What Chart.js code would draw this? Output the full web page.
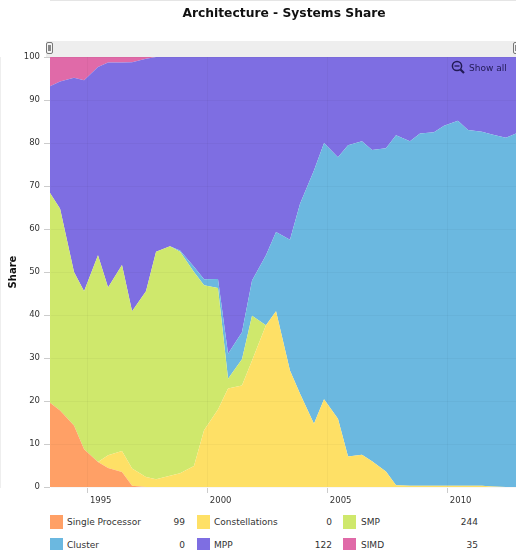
<!DOCTYPE html>
<html>
<head>
<meta charset="utf-8">
<script src="https://cdn.jsdelivr.net/npm/chart.js@4/dist/chart.umd.min.js"></script>
<style>
  html, body { margin: 0; padding: 0; background: #fff; overflow: hidden; width: 516px; height: 550px; }
  body { position: relative; font-family: "DejaVu Sans", sans-serif; }
  canvas { position: absolute; left: 0; top: 0; }
  #chartTitle { position: absolute; left: 0; top: 5px; width: 568px; text-align: center; font-size: 12.3px; line-height: 16px; font-weight: bold; color: #111; white-space: nowrap; }
  .swatch { position: absolute; width: 13px; height: 14px; }
  .lbl, .val { position: absolute; font-size: 9px; line-height: 14px; color: #333; white-space: nowrap; }
  #showAll { position: absolute; left: 451px; top: 60px; font-size: 9px; line-height: 14px; color: #221a55; white-space: nowrap; }
  #showAll svg { position: absolute; left: 0; top: 0; }
  #showAll span { position: absolute; left: 18px; top: 1px; }
</style>
</head>
<body>
<canvas id="shareChart" width="568" height="510"></canvas>
<div id="chartTitle">Architecture - Systems Share</div>
<div id="showAll">
  <svg width="15" height="15" viewBox="0 0 15 15">
    <circle cx="6" cy="6" r="4.6" fill="none" stroke="#221a55" stroke-width="1.5"/>
    <path d="M3.5 6H8.5" stroke="#221a55" stroke-width="1.3"/>
    <path d="M9.5 9.5L13 13" stroke="#221a55" stroke-width="2.2"/>
  </svg>
  <span>Show all</span>
</div>
<div id="legend"></div>
<script>
const years = [1993.45, 1993.87, 1994.45, 1994.87, 1995.45, 1995.87, 1996.45, 1996.87, 1997.45, 1997.87,
  1998.45, 1998.87, 1999.45, 1999.87, 2000.45, 2000.87, 2001.45, 2001.87, 2002.45, 2002.87,
  2003.45, 2003.87, 2004.45, 2004.87, 2005.45, 2005.87, 2006.45, 2006.87, 2007.45, 2007.87,
  2008.45, 2008.87, 2009.45, 2009.87, 2010.45, 2010.87, 2011.45, 2011.87, 2012.45, 2012.87];
const xTickYears = [1995, 2000, 2005, 2010];

const singleProcessor = [19.6, 17.8, 14.3, 8.8, 5.8, 4.4, 3.5, 0.3, 0, 0,
  0, 0, 0, 0, 0, 0, 0, 0, 0, 0,
  0, 0, 0, 0, 0, 0, 0, 0, 0, 0,
  0, 0, 0, 0, 0, 0, 0, 0, 0, 0];
const constellations = [0, 0, 0, 0, 0, 3, 4.9, 4, 2.3, 1.8,
  2.6, 3.2, 4.9, 13.2, 18, 22.9, 23.6, 29.4, 37.6, 40.9,
  27.1, 21.7, 14.7, 20.4, 15.9, 7.1, 7.5, 6, 3.6, 0.4,
  0.3, 0.3, 0.3, 0.3, 0.3, 0.3, 0.3, 0.1, 0, 0];
const smp = [48.8, 46.9, 35.7, 36.7, 48.1, 39, 43.2, 36.6, 43.2, 52.9,
  53.4, 51.5, 45.1, 33.7, 28.3, 2.3, 6.1, 10.4, 0, 0,
  0, 0, 0, 0, 0, 0, 0, 0, 0, 0,
  0, 0, 0, 0, 0, 0, 0, 0, 0, 0];
const cluster = [0, 0, 0, 0, 0, 0, 0, 0, 0, 0,
  0, 0.3, 1.2, 1.4, 2.1, 5.8, 6.3, 8.2, 16.3, 18.4,
  30.4, 44.2, 58.9, 59.6, 60.8, 72.4, 72.9, 72.4, 75.2, 81.4,
  80.1, 81.9, 82.2, 83.7, 84.9, 82.7, 82.3, 81.9, 81.2, 82.2];
const mpp = [24.8, 29.6, 45.2, 49.1, 43.8, 52.3, 47.1, 57.9, 54.1, 45.3,
  44, 45, 48.8, 51.7, 51.6, 69, 64, 52, 46.1, 40.7,
  42.5, 34.1, 26.4, 20, 23.3, 20.5, 19.6, 21.6, 21.2, 18.2,
  19.6, 17.8, 17.5, 16, 14.8, 17, 17.4, 18, 18.8, 17.8];
const simd = [6.8, 5.7, 4.8, 5.4, 2.3, 1.3, 1.3, 1.2, 0.4, 0,
  0, 0, 0, 0, 0, 0, 0, 0, 0, 0,
  0, 0, 0, 0, 0, 0, 0, 0, 0, 0,
  0, 0, 0, 0, 0, 0, 0, 0, 0, 0];

const seriesNames = ['Single Processor', 'Constellations', 'SMP', 'Cluster', 'MPP', 'SIMD'];
const seriesColors = ['#ffa066', '#fee066', '#cfe86c', '#6bb8e0', '#7e6ee2', '#e06aa8'];
const legendValues = ['99', '0', '244', '0', '122', '35'];
const seriesData = [singleProcessor, constellations, smp, cluster, mpp, simd];

// scrollbar band above the plot
const scrollbarPlugin = {
  id: 'scrollbar',
  afterDraw(chart) {
    const c = chart.ctx;
    const a = chart.chartArea;
    c.save();
    c.fillStyle = '#eeeeee';
    c.fillRect(a.left - 4, a.top - 16, a.right - a.left + 4, 16);
    [a.left - 4, a.right - 3].forEach(x => {
      c.fillStyle = '#f4f4f4';
      c.strokeStyle = '#777';
      c.beginPath();
      c.roundRect(x + 0.5, a.top - 14.5, 6, 11, 1.5);
      c.fill();
      c.stroke();
      c.fillStyle = '#888';
      c.fillRect(x + 2, a.top - 12, 3, 6);
    });
    c.restore();
  }
};

new Chart(document.getElementById('shareChart'), {
  type: 'line',
  data: {
    labels: years,
    datasets: seriesNames.map((name, i) => ({
      label: name,
      data: seriesData[i],
      backgroundColor: seriesColors[i],
      borderWidth: 0,
      pointRadius: 0,
      tension: 0,
      fill: i === 0 ? 'origin' : '-1'
    }))
  },
  options: {
    responsive: false,
    animation: false,
    layout: { padding: { top: 57, right: 52 } },
    plugins: {
      legend: { display: false },
      title: { display: false }
    },
    scales: {
      x: {
        type: 'linear',
        min: 1993.45,
        max: 2012.87,
        afterBuildTicks(scale) {
          scale.ticks = xTickYears.map(value => ({ value }));
        },
        afterFit(scale) { scale.height = 23; },
        grid: { color: 'rgba(0,0,0,0.03)', z: 1, tickColor: '#ccc', tickLength: 6 },
        border: { color: '#ccc' },
        ticks: {
          align: 'start',
          maxRotation: 0,
          autoSkip: false,
          color: '#333',
          padding: 3,
          font: { family: 'DejaVu Sans', size: 8.5 },
          callback: v => ' ' + v
        }
      },
      y: {
        stacked: true,
        min: 0,
        max: 100,
        afterFit(scale) { scale.width = 50; },
        grid: { color: 'rgba(0,0,0,0.03)', z: 1, tickColor: '#ccc', tickLength: 6 },
        border: { color: '#ddd' },
        title: {
          display: true,
          text: 'Share',
          color: '#111',
          padding: { top: 7, bottom: 0 },
          font: { family: 'DejaVu Sans', size: 10, weight: 'bold' }
        },
        ticks: {
          stepSize: 10,
          color: '#333',
          padding: 4,
          font: { family: 'DejaVu Sans', size: 8.5 }
        }
      }
    }
  },
  plugins: [scrollbarPlugin]
});

// legend table under the chart, three columns
const legendCols = [
  { swatch: 50, text: 67, valueRight: 185 },
  { swatch: 197, text: 214, valueRight: 332 },
  { swatch: 343, text: 361, valueRight: 478 }
];
const legendRows = [515, 537.5];
const legendEl = document.getElementById('legend');
seriesNames.forEach((name, i) => {
  const col = legendCols[i % 3];
  const top = legendRows[Math.floor(i / 3)];
  legendEl.insertAdjacentHTML('beforeend',
    `<div class="swatch" style="left:${col.swatch}px;top:${top}px;background:${seriesColors[i]}"></div>` +
    `<div class="lbl" style="left:${col.text}px;top:${top}px">${name}</div>` +
    `<div class="val" style="right:${516 - col.valueRight}px;top:${top}px">${legendValues[i]}</div>`);
});
</script>
</body>
</html>
